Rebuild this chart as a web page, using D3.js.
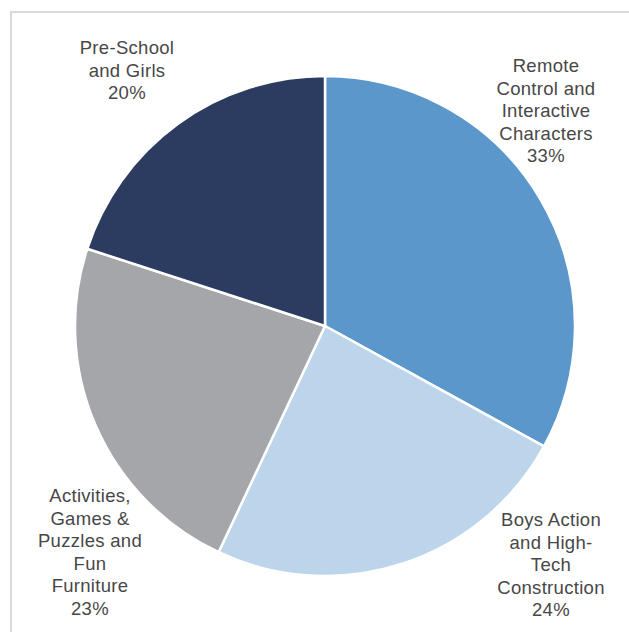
<!DOCTYPE html>
<html>
<head>
<meta charset="utf-8">
<script src="https://cdn.jsdelivr.net/npm/d3@7"></script>
<style>
  body { margin: 0; background: #fff; }
  svg text { font-family: "Liberation Sans", Arial, sans-serif; }
</style>
</head>
<body>
<div id="pie"></div>
<script>
// data
var categories = ["Remote Control and Interactive Characters", "Boys Action and High-Tech Construction",
  "Activities, Games & Puzzles and Fun Furniture", "Pre-School and Girls"];
var shares = [33, 24, 23, 20];
var labelLines = [
  ["Remote", "Control and", "Interactive", "Characters", "33%"],
  ["Boys Action", "and High-", "Tech", "Construction", "24%"],
  ["Activities,", "Games &", "Puzzles and", "Fun", "Furniture", "23%"],
  ["Pre-School", "and Girls", "20%"]
];
var colors = ["#5b97ca", "#bdd5ea", "#a5a6aa", "#2c3b60"];

(function() {
  var width = 629, height = 632,
      cx = 325, cy = 326, radius = 250;

  var svg = d3.select("#pie")
      .append("svg")
      .attr("width", width)
      .attr("height", height);

  // light frame, only top and left edges are in view
  svg.append("rect")
    .attr("x", 11).attr("y", 12)
    .attr("width", 700).attr("height", 700)
    .attr("fill", "none")
    .attr("stroke", "#d9d9d9")
    .attr("stroke-width", 2);

  var data = categories.map(function(c, i) {
    return { name: c, value: shares[i], lines: labelLines[i], color: colors[i] };
  });

  var pie = d3.pie().sort(null).value(function(d) { return d.value; });
  var arc = d3.arc().innerRadius(0).outerRadius(radius);

  var g = svg.append("g")
      .attr("transform", "translate(" + cx + "," + cy + ")");

  g.selectAll("path")
    .data(pie(data))
    .enter().append("path")
    .attr("d", arc)
    .attr("fill", function(d) { return d.data.color; })
    .attr("stroke", "white")
    .attr("stroke-width", 2.5)
    .attr("stroke-linejoin", "round");

  // label anchors (centre x, first baseline y) relative to the page
  var labelPos = [[546, 72], [551, 526], [90, 502], [127, 54]];
  var lineH = 22.6;

  var labels = svg.selectAll(".lbl")
    .data(data)
    .enter().append("text")
    .attr("class", "lbl")
    .attr("text-anchor", "middle")
    .attr("fill", "#474747")
    .style("font-size", "18.5px")
    .style("letter-spacing", "0.3px");

  labels.each(function(d, i) {
    var t = d3.select(this);
    d.lines.forEach(function(line, j) {
      t.append("tspan")
        .attr("x", labelPos[i][0])
        .attr("y", labelPos[i][1] + j * lineH)
        .text(line);
    });
  });
})();
</script>
</body>
</html>
